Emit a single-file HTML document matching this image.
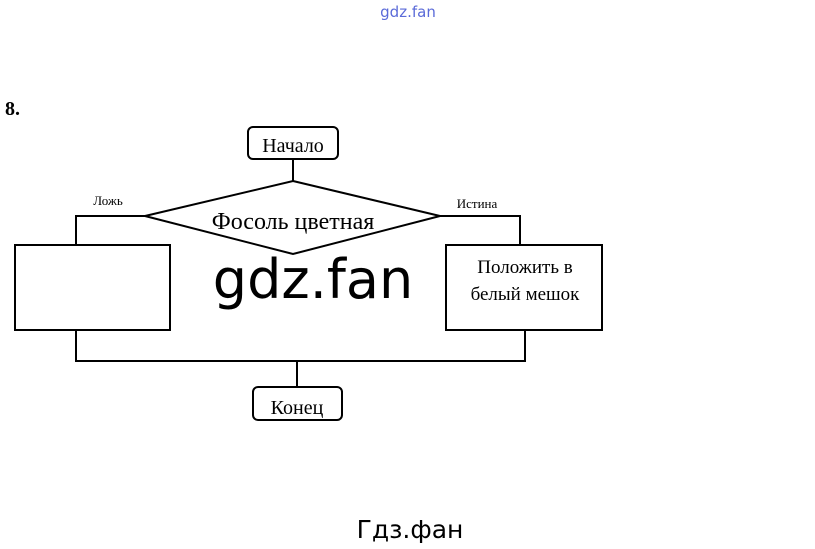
<!DOCTYPE html>
<html><head><meta charset="utf-8"><style>
body{margin:0;background:#fff;width:815px;height:549px;overflow:hidden;position:relative}
</style></head><body>
<svg width="815" height="549" style="position:absolute;left:0;top:0" font-family="Liberation Serif, serif">
<text x="408" y="17" font-family="DejaVu Sans, sans-serif" font-size="15" fill="#5a6ad8" text-anchor="middle">gdz.fan</text>
<text x="5" y="115" font-size="20" font-weight="bold">8.</text>
<g fill="none" stroke="#000" stroke-width="2">
<rect x="248" y="127" width="90" height="32" rx="5"/>
<line x1="293" y1="159" x2="293" y2="181"/>
<polygon points="293,181 440,216 293,254 145,216" fill="#fff"/>
<polyline points="145,216 76,216 76,245"/>
<polyline points="440,216 520,216 520,245"/>
<rect x="15" y="245" width="155" height="85"/>
<rect x="446" y="245" width="156" height="85"/>
<polyline points="76,330 76,361 525,361 525,330"/>
<line x1="297" y1="361" x2="297" y2="387"/>
<rect x="253" y="387" width="89" height="33" rx="5"/>
</g>
<text x="293" y="152" font-size="20" text-anchor="middle">Начало</text>
<text x="297" y="414" font-size="20" text-anchor="middle">Конец</text>
<text x="293" y="229" font-size="24" text-anchor="middle">Фосоль цветная</text>
<text x="108" y="205" font-size="13" text-anchor="middle">Ложь</text>
<text x="477" y="208" font-size="13" text-anchor="middle">Истина</text>
<text x="525" y="273" font-size="19" text-anchor="middle">Положить в</text>
<text x="525" y="300" font-size="19" text-anchor="middle">белый мешок</text>
<text x="313" y="298" font-family="DejaVu Sans, sans-serif" font-size="54" text-anchor="middle">gdz.fan</text>
<text x="410" y="538" font-family="DejaVu Sans, sans-serif" font-size="25" text-anchor="middle">Гдз.фан</text>
</svg>
</body></html>
